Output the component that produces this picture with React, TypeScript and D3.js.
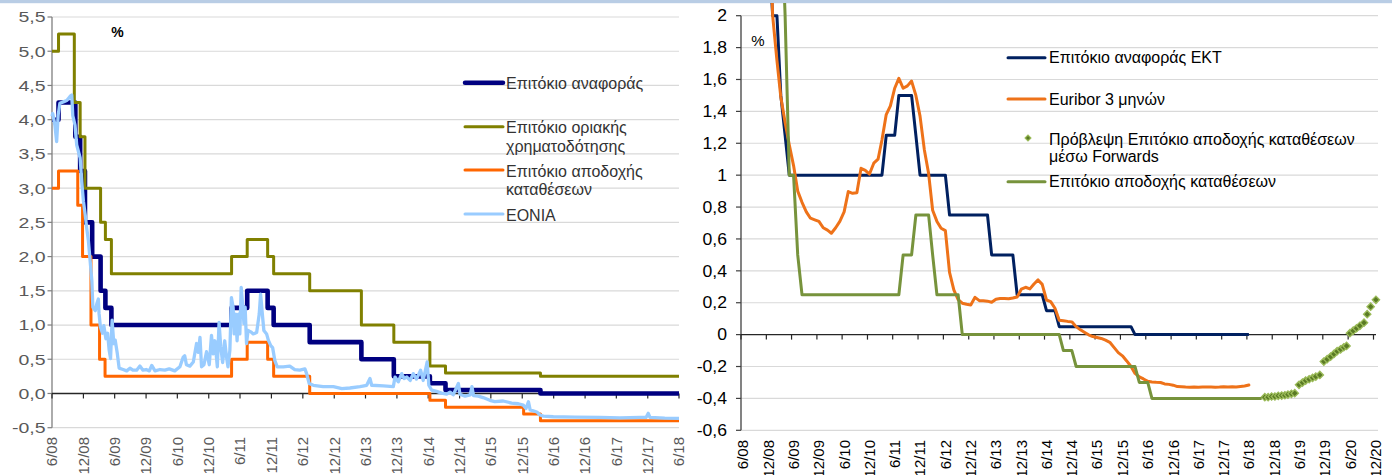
import React from "react";
import * as d3 from "d3";

// ---------------- DATA ----------------
// Left chart: ECB official rates (change points) and EONIA
const mroLeft: [string, number][] = [
  ["2008-06-01", 4.0], ["2008-07-09", 4.25], ["2008-10-15", 3.75], ["2008-11-12", 3.25],
  ["2008-12-10", 2.5], ["2009-01-21", 2.0], ["2009-03-11", 1.5], ["2009-04-08", 1.25],
  ["2009-05-13", 1.0], ["2011-04-13", 1.25], ["2011-07-13", 1.5], ["2011-11-09", 1.25],
  ["2011-12-14", 1.0], ["2012-07-11", 0.75], ["2013-05-08", 0.5], ["2013-11-13", 0.25],
  ["2014-06-11", 0.15], ["2014-09-10", 0.05], ["2016-03-16", 0.0], ["2018-06-01", 0.0],
];
const mlfLeft: [string, number][] = [
  ["2008-06-01", 5.0], ["2008-07-09", 5.25], ["2008-10-09", 4.25], ["2008-11-12", 3.75],
  ["2008-12-10", 3.0], ["2009-03-11", 2.5], ["2009-04-08", 2.25], ["2009-05-13", 1.75],
  ["2011-04-13", 2.0], ["2011-07-13", 2.25], ["2011-11-09", 2.0], ["2011-12-14", 1.75],
  ["2012-07-11", 1.5], ["2013-05-08", 1.0], ["2013-11-13", 0.75], ["2014-06-11", 0.4],
  ["2014-09-10", 0.3], ["2016-03-16", 0.25], ["2018-06-01", 0.25],
];
const dfLeft: [string, number][] = [
  ["2008-06-01", 3.0], ["2008-07-09", 3.25], ["2008-10-29", 2.75], ["2008-11-26", 2.0],
  ["2009-01-14", 1.0], ["2009-03-05", 0.5], ["2009-04-06", 0.25], ["2011-04-13", 0.5],
  ["2011-07-13", 0.75], ["2011-11-09", 0.5], ["2011-12-14", 0.25], ["2012-07-11", 0.0],
  ["2014-06-11", -0.1], ["2014-09-10", -0.2], ["2015-12-09", -0.3], ["2016-03-16", -0.4],
  ["2018-06-01", -0.4],
];
const eoniaLeft: [string, number][] = [
  ["2008-06-01", 4.05], ["2008-06-05", 4.09], ["2008-06-18", 3.92], ["2008-06-28", 3.68], ["2008-07-07", 4.07],
  ["2008-07-17", 4.24], ["2008-08-06", 4.26], ["2008-08-26", 4.28], ["2008-09-14", 4.34], ["2008-09-24", 4.36],
  ["2008-09-30", 4.06], ["2008-10-13", 3.92], ["2008-10-23", 3.63], ["2008-11-12", 3.44], ["2008-11-21", 3.1],
  ["2008-12-01", 2.81], ["2008-12-11", 2.62], ["2008-12-20", 2.42], ["2008-12-30", 2.23], ["2009-01-09", 1.94],
  ["2009-01-19", 1.65], ["2009-01-25", 1.26], ["2009-02-08", 1.21], ["2009-02-17", 1.31], ["2009-02-26", 1.38],
  ["2009-03-02", 1.17], ["2009-03-10", 0.97], ["2009-03-22", 0.88], ["2009-03-30", 0.99], ["2009-04-11", 0.8],
  ["2009-04-21", 0.88], ["2009-04-30", 0.63], ["2009-05-08", 0.51], ["2009-05-17", 1.07], ["2009-05-27", 0.73],
  ["2009-06-04", 0.78], ["2009-06-16", 0.59], ["2009-06-27", 0.37], ["2009-07-20", 0.35], ["2009-08-10", 0.33],
  ["2009-08-29", 0.37], ["2009-09-15", 0.34], ["2009-10-07", 0.34], ["2009-10-26", 0.4], ["2009-11-13", 0.34],
  ["2009-12-01", 0.35], ["2009-12-20", 0.33], ["2010-01-03", 0.41], ["2010-01-22", 0.33], ["2010-02-20", 0.35],
  ["2010-03-20", 0.34], ["2010-04-15", 0.36], ["2010-05-17", 0.33], ["2010-06-16", 0.39], ["2010-07-05", 0.53],
  ["2010-07-14", 0.55], ["2010-07-24", 0.42], ["2010-08-13", 0.4], ["2010-09-02", 0.46], ["2010-09-21", 0.73],
  ["2010-10-01", 0.6], ["2010-10-11", 0.82], ["2010-10-20", 0.39], ["2010-11-03", 0.42], ["2010-11-18", 0.61],
  ["2010-12-04", 0.42], ["2010-12-17", 0.85], ["2010-12-27", 0.58], ["2011-01-06", 0.77], ["2011-01-20", 0.39],
  ["2011-01-30", 1.04], ["2011-02-09", 0.68], ["2011-02-20", 0.45], ["2011-03-04", 0.77], ["2011-03-14", 0.54],
  ["2011-03-23", 0.39], ["2011-04-03", 0.63], ["2011-04-12", 1.4], ["2011-04-22", 1.26], ["2011-04-28", 0.87],
  ["2011-05-07", 1.16], ["2011-05-15", 0.77], ["2011-05-23", 1.16], ["2011-05-31", 0.87], ["2011-06-08", 1.55],
  ["2011-06-16", 1.31], ["2011-06-24", 1.02], ["2011-07-01", 1.26], ["2011-07-09", 0.73], ["2011-07-18", 0.92],
  ["2011-08-03", 0.9], ["2011-08-17", 0.87], ["2011-09-06", 0.89], ["2011-09-21", 1.16], ["2011-09-29", 1.45],
  ["2011-10-11", 1.11], ["2011-10-18", 0.92], ["2011-11-03", 0.87], ["2011-11-13", 0.78], ["2011-11-27", 0.7],
  ["2011-12-08", 0.67], ["2011-12-21", 0.48], ["2012-01-04", 0.39], ["2012-02-08", 0.39], ["2012-03-17", 0.4],
  ["2012-04-15", 0.35], ["2012-05-14", 0.34], ["2012-06-13", 0.36], ["2012-06-23", 0.29], ["2012-07-08", 0.145],
  ["2012-08-01", 0.12], ["2012-09-27", 0.1], ["2012-11-26", 0.1], ["2013-01-14", 0.07], ["2013-03-02", 0.08],
  ["2013-04-30", 0.1], ["2013-06-08", 0.12], ["2013-06-27", 0.22], ["2013-07-07", 0.12], ["2013-09-13", 0.11],
  ["2013-11-10", 0.1], ["2013-11-20", 0.24], ["2013-12-09", 0.17], ["2013-12-29", 0.29], ["2014-01-12", 0.22],
  ["2014-01-28", 0.24], ["2014-02-16", 0.19], ["2014-03-06", 0.29], ["2014-03-25", 0.21], ["2014-04-18", 0.34],
  ["2014-05-03", 0.19], ["2014-05-26", 0.46], ["2014-06-05", 0.12], ["2014-06-21", 0.05], ["2014-07-20", 0.03],
  ["2014-08-18", 0.005], ["2014-09-17", -0.01], ["2014-10-06", 0.02], ["2014-10-25", -0.02], ["2014-11-24", 0.145],
  ["2014-12-03", -0.01], ["2015-01-02", -0.04], ["2015-02-01", -0.02], ["2015-02-11", 0.1], ["2015-02-20", -0.03],
  ["2015-03-19", -0.04], ["2015-04-17", -0.06], ["2015-05-26", -0.1], ["2015-06-24", -0.12], ["2015-08-12", -0.11],
  ["2015-09-30", -0.14], ["2015-11-08", -0.15], ["2015-12-07", -0.17], ["2015-12-23", -0.22], ["2016-01-06", -0.12],
  ["2016-01-16", -0.24], ["2016-02-24", -0.27], ["2016-03-13", -0.315], ["2016-04-02", -0.33], ["2016-05-30", -0.34],
  ["2016-10-03", -0.345], ["2017-02-27", -0.35], ["2017-06-22", -0.355], ["2017-10-17", -0.35], ["2017-11-21", -0.35],
  ["2017-12-04", -0.29], ["2017-12-14", -0.35], ["2018-03-10", -0.36], ["2018-06-01", -0.365],
];

// Right chart: monthly series
const mroRight: [string, number][] = [
  ["2008-06", 4.0], ["2008-07", 4.25], ["2008-09", 4.25], ["2008-10", 3.75], ["2008-11", 3.25],
  ["2008-12", 2.5], ["2009-01", 2.0], ["2009-02", 2.0], ["2009-03", 1.5], ["2009-04", 1.25],
  ["2009-05", 1.0], ["2011-03", 1.0], ["2011-04", 1.25], ["2011-06", 1.25], ["2011-07", 1.5],
  ["2011-10", 1.5], ["2011-11", 1.25], ["2011-12", 1.0], ["2012-06", 1.0], ["2012-07", 0.75],
  ["2013-04", 0.75], ["2013-05", 0.5], ["2013-10", 0.5], ["2013-11", 0.25], ["2014-05", 0.25],
  ["2014-06", 0.15], ["2014-08", 0.15], ["2014-09", 0.05], ["2016-02", 0.05], ["2016-03", 0.0],
  ["2018-06", 0.0],
];
const euriborStart = "2008-06";
const euribor3m: number[] = [
  4.94, 4.96, 4.97, 5.02, 4.9, 3.55, 2.89,
  2.0, 1.72, 1.49, 1.33, 1.19, 1.06, 0.9, 0.83, 0.77, 0.73, 0.72, 0.71,
  0.67, 0.655, 0.636, 0.67, 0.71, 0.77, 0.897, 0.886, 0.89, 1.043, 1.03, 1.007,
  1.075, 1.1, 1.22, 1.38, 1.434, 1.545, 1.607, 1.545, 1.56, 1.59, 1.5, 1.37,
  1.16, 1.01, 0.78, 0.71, 0.667, 0.652, 0.39, 0.28, 0.22, 0.197, 0.19, 0.186,
  0.234, 0.213, 0.213, 0.21, 0.203, 0.222, 0.226, 0.226, 0.225, 0.23, 0.236, 0.285,
  0.297, 0.287, 0.316, 0.343, 0.315, 0.217, 0.207, 0.165, 0.09, 0.087, 0.083, 0.08,
  0.05, 0.03, 0.015, -0.001, -0.012, -0.018, -0.024, -0.035, -0.048, -0.08, -0.113, -0.133,
  -0.165, -0.2, -0.243, -0.265, -0.278, -0.293, -0.297, -0.299, -0.3, -0.309, -0.312, -0.317,
  -0.326, -0.327, -0.329, -0.33, -0.329, -0.33, -0.329, -0.329, -0.329, -0.33, -0.329, -0.327,
  -0.328, -0.327, -0.328, -0.325, -0.322, -0.316,
];
const dfRight: [string, number][] = [
  ["2008-06", 3.0], ["2008-10", 3.0], ["2008-11", 3.25], ["2009-02", 3.25], ["2009-03", 2.75],
  ["2009-04", 2.0], ["2009-05", 1.0], ["2009-06", 1.0], ["2009-07", 0.5], ["2009-08", 0.25],
  ["2011-07", 0.25], ["2011-08", 0.5], ["2011-10", 0.5], ["2011-11", 0.75], ["2012-02", 0.75],
  ["2012-03", 0.5], ["2012-04", 0.25], ["2012-09", 0.25], ["2012-10", 0.0], ["2014-09", 0.0],
  ["2014-10", -0.1], ["2014-12", -0.1], ["2015-01", -0.2], ["2016-03", -0.2], ["2016-04", -0.3],
  ["2016-06", -0.3], ["2016-07", -0.4], ["2018-09", -0.4],
];
const dfForwards: [string, number][] = [
  ["2018-09-24", -0.392], ["2018-10-18", -0.392], ["2018-11-12", -0.388], ["2018-12-06", -0.388],
  ["2018-12-30", -0.384], ["2019-01-24", -0.382], ["2019-02-16", -0.38], ["2019-03-10", -0.376],
  ["2019-04-04", -0.371], ["2019-04-28", -0.367], ["2019-05-29", -0.315], ["2019-06-23", -0.301],
  ["2019-07-16", -0.288], ["2019-08-10", -0.28], ["2019-09-04", -0.271], ["2019-09-27", -0.263],
  ["2019-10-26", -0.253], ["2019-11-24", -0.169], ["2019-12-18", -0.154], ["2020-01-12", -0.138],
  ["2020-02-05", -0.121], ["2020-02-28", -0.104], ["2020-03-24", -0.092], ["2020-04-16", -0.079],
  ["2020-05-06", -0.071], ["2020-05-30", 0.009], ["2020-06-23", 0.025], ["2020-07-17", 0.04],
  ["2020-08-10", 0.055], ["2020-09-09", 0.075], ["2020-10-02", 0.128], ["2020-10-27", 0.175],
  ["2020-12-04", 0.218],
];

const leftXTicks = ["6/08", "12/08", "6/09", "12/09", "6/10", "12/10", "6/11", "12/11", "6/12", "12/12",
  "6/13", "12/13", "6/14", "12/14", "6/15", "12/15", "6/16", "12/16", "6/17", "12/17", "6/18"];
const rightXTicks = ["6/08", "12/08", "6/09", "12/09", "6/10", "12/10", "6/11", "12/11", "6/12", "12/12",
  "6/13", "12/13", "6/14", "12/14", "6/15", "12/15", "6/16", "12/16", "6/17", "12/17", "6/18",
  "12/18", "6/19", "12/19", "6/20", "12/20"];
const leftYTicks = [-0.5, 0, 0.5, 1, 1.5, 2, 2.5, 3, 3.5, 4, 4.5, 5, 5.5];
const rightYTicks = [-0.6, -0.4, -0.2, 0, 0.2, 0.4, 0.6, 0.8, 1, 1.2, 1.4, 1.6, 1.8, 2];

const leftLegend = [
  { lines: ["Επιτόκιο αναφοράς"], color: "#000080", width: 4.5 },
  { lines: ["Επιτόκιο οριακής", "χρηματοδότησης"], color: "#808000", width: 3 },
  { lines: ["Επιτόκιο αποδοχής", "καταθέσεων"], color: "#FF6600", width: 3 },
  { lines: ["EONIA"], color: "#99CCFF", width: 3 },
];
const rightLegend = [
  { lines: ["Επιτόκιο αναφοράς ΕΚΤ"], color: "#002060", kind: "line" },
  { lines: ["Euribor 3 μηνών"], color: "#EE7219", kind: "line" },
  { lines: ["Πρόβλεψη Επιτόκιο αποδοχής καταθέσεων", "μέσω Forwards"], color: "#5A7A25", kind: "marker" },
  { lines: ["Επιτόκιο αποδοχής καταθέσεων"], color: "#77933C", kind: "line" },
];

// ---------------- HELPERS ----------------
const parseDay = d3.timeParse("%Y-%m-%d");
const parseMonth = d3.timeParse("%Y-%m");
const tickDate = (s: string) => {
  const [m, y] = s.split("/").map(Number);
  return new Date(2000 + y, m - 1, 1);
};
type P = { date: Date; v: number };
const toPts = (arr: [string, number][], parser: (s: string) => Date | null): P[] =>
  arr.map(([d, v]) => ({ date: parser(d) as Date, v }));

const FONT = "'Liberation Sans', Arial, sans-serif";

export default function App() {
  const xL = d3.scaleTime().domain([parseDay("2008-06-01")!, parseDay("2018-06-01")!]).range([52, 679]);
  const yL = d3.scaleLinear().domain([-0.5, 5.5]).range([427.7, 17]);
  const xR = d3.scaleTime().domain([parseDay("2008-06-01")!, parseDay("2020-12-01")!]).range([743, 1375.5]);
  const yR = d3.scaleLinear().domain([-0.6, 2]).range([430.3, 15.7]);

  const stepL = d3.line<P>().x((d) => xL(d.date)).y((d) => yL(d.v)).curve(d3.curveStepAfter);
  const lineL = d3.line<P>().x((d) => xL(d.date)).y((d) => yL(d.v));
  const lineR = d3.line<P>().x((d) => xR(d.date)).y((d) => yR(d.v));

  const eurStart = parseMonth(euriborStart)!;
  const eurPts: P[] = euribor3m.map((v, i) => ({ date: d3.timeMonth.offset(eurStart, i), v }));

  const fmtL = (v: number) => v.toFixed(1).replace(".", ",");
  const fmtR = (v: number) => String(+v.toFixed(1)).replace(".", ",");

  const diamond = d3.symbol(d3.symbolSquare, 27)()!;
  const diamondSmall = d3.symbol(d3.symbolSquare, 17)()!;

  const y0L = yL(0);
  const y0R = yR(0);

  return (
    <svg width={1392} height={475} style={{ position: "absolute", left: 0, top: 0, background: "#fff" }}
      fontFamily={FONT}>
      <defs>
        <clipPath id="clipR">
          <rect x={741} y={3} width={651} height={472} />
        </clipPath>
      </defs>
      <rect x={0} y={0} width={1392} height={475} fill="#fff" />
      <rect x={0} y={0} width={1392} height={3.2} fill="#B9CDE5" />

      {/* ---------- LEFT CHART ---------- */}
      <g>
        {leftYTicks.filter((t) => t !== 0).map((t) => (
          <line key={t} x1={52} x2={679} y1={yL(t)} y2={yL(t)} stroke="#D9D9D9" strokeWidth={1.2} />
        ))}
        <line x1={52} x2={52} y1={yL(5.5)} y2={yL(-0.5)} stroke="#7F7F7F" strokeWidth={1.3} />
        {leftYTicks.map((t) => (
          <g key={t}>
            <line x1={47.5} x2={52} y1={yL(t)} y2={yL(t)} stroke="#7F7F7F" strokeWidth={1.2} />
            <text transform={`translate(45.5,${yL(t)}) scale(1.3,1)`} textAnchor="end" dy="0.36em"
              fontSize={15} fill="#595959">{fmtL(t)}</text>
          </g>
        ))}
        <line x1={52} x2={679} y1={y0L} y2={y0L} stroke="#262626" strokeWidth={1.3} />
        {leftXTicks.map((s) => {
          const x = xL(tickDate(s));
          return (
            <g key={s}>
              <line x1={x} x2={x} y1={y0L} y2={y0L + 5} stroke="#262626" strokeWidth={1.2} />
              <text transform={`translate(${x},437) rotate(-90)`} textAnchor="end" dy="0.36em"
                fontSize={15} fill="#595959">{s}</text>
            </g>
          );
        })}
        <text x={117.5} y={32} textAnchor="middle" dy="0.36em" fontSize={14} fontWeight="bold" fill="#000">%</text>

        <path d={stepL(toPts(mroLeft, parseDay))!} fill="none" stroke="#000080" strokeWidth={4.6} strokeLinejoin="round" />
        <path d={stepL(toPts(mlfLeft, parseDay))!} fill="none" stroke="#808000" strokeWidth={3} strokeLinejoin="round" />
        <path d={stepL(toPts(dfLeft, parseDay))!} fill="none" stroke="#FF6600" strokeWidth={3} strokeLinejoin="round" />
        <path d={lineL(toPts(eoniaLeft, parseDay))!} fill="none" stroke="#99CCFF" strokeWidth={3.3} strokeLinejoin="round" />

        {(() => {
          const rows = [82.7, 126.7, 170, 214];
          return leftLegend.map((it, i) => (
            <g key={i}>
              <line x1={465} x2={503} y1={rows[i]} y2={rows[i]} stroke={it.color} strokeWidth={it.width} strokeLinecap="round" />
              {it.lines.map((l, j) => (
                <text key={j} x={506} y={rows[i] + 1 + j * 18.5} dy="0.36em" fontSize={16} fill="#333">{l}</text>
              ))}
            </g>
          ));
        })()}
      </g>

      {/* ---------- RIGHT CHART ---------- */}
      <g>
        {rightYTicks.filter((t) => t !== 0).map((t) => (
          <line key={t} x1={741} x2={1378} y1={yR(t)} y2={yR(t)} stroke="#D9D9D9" strokeWidth={1.2} />
        ))}
        <line x1={741} x2={741} y1={yR(2)} y2={yR(-0.6)} stroke="#404040" strokeWidth={1.3} />
        {rightYTicks.map((t) => (
          <g key={t}>
            <line x1={736} x2={741} y1={yR(t)} y2={yR(t)} stroke="#404040" strokeWidth={1.2} />
            <text transform={`translate(727,${yR(t)}) scale(1.1,1)`} textAnchor="end" dy="0.36em"
              fontSize={16} fill="#000">{fmtR(t)}</text>
          </g>
        ))}
        <line x1={741} x2={1376} y1={y0R} y2={y0R} stroke="#262626" strokeWidth={1.3} />
        {rightXTicks.map((s) => {
          const x = xR(tickDate(s));
          return (
            <g key={s}>
              <line x1={x - 2} x2={x - 2} y1={y0R} y2={y0R + 5} stroke="#262626" strokeWidth={1.2} />
              <text transform={`translate(${x},440) rotate(-90)`} textAnchor="end" dy="0.36em"
                fontSize={15} fill="#000">{s}</text>
            </g>
          );
        })}
        <text x={758} y={40.5} textAnchor="middle" dy="0.36em" fontSize={15} fill="#000">%</text>

        <g clipPath="url(#clipR)">
          <path d={lineR(toPts(mroRight, parseMonth))!} fill="none" stroke="#002060" strokeWidth={3} strokeLinejoin="round" />
          <path d={lineR(eurPts)!} fill="none" stroke="#EE7219" strokeWidth={3} strokeLinejoin="round" strokeLinecap="round" />
          {toPts(dfForwards, parseDay).map((d, i) => (
            <path key={i} d={diamond} transform={`translate(${xR(d.date)},${yR(d.v)}) rotate(45)`}
              fill="#5A7A25" stroke="#9BBB59" strokeWidth={1.3} />
          ))}
          <path d={lineR(toPts(dfRight, parseMonth))!} fill="none" stroke="#77933C" strokeWidth={3} strokeLinejoin="round" />
        </g>

        {(() => {
          const rows = [57.7, 99, 139.5, 181.7];
          return rightLegend.map((it, i) => (
            <g key={i}>
              {it.kind === "line" ? (
                <line x1={1008} x2={1045} y1={rows[i]} y2={rows[i]} stroke={it.color} strokeWidth={3} strokeLinecap="round" />
              ) : (
                <path d={diamondSmall} transform={`translate(1028,${rows[i] - 1.5}) rotate(45)`} fill="#5A7A25" stroke="#9BBB59" strokeWidth={1.2} />
              )}
              {it.lines.map((l, j) => (
                <text key={j} x={1049} y={rows[i] + j * 17} dy="0.36em" fontSize={16} fill="#000">{l}</text>
              ))}
            </g>
          ));
        })()}
      </g>
    </svg>
  );
}
